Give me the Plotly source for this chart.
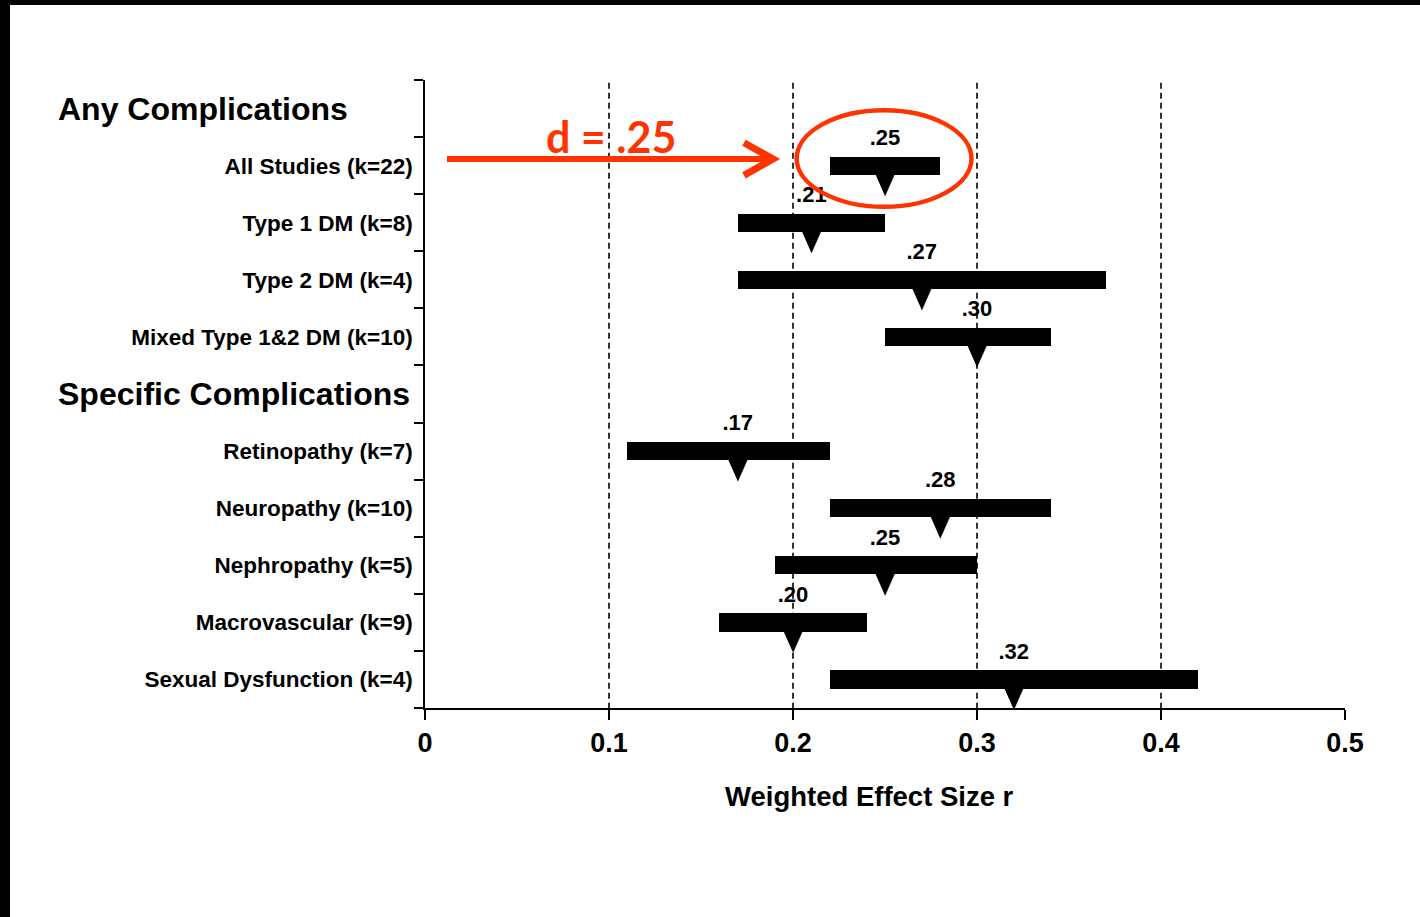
import plotly.graph_objects as go

# ---------------- data ----------------
groups = ["Any Complications", "Specific Complications"]
group_sizes = [4, 5]
categories = [
    "All Studies (k=22)", "Type 1 DM (k=8)", "Type 2 DM (k=4)",
    "Mixed Type 1&2 DM (k=10)",
    "Retinopathy (k=7)", "Neuropathy (k=10)", "Nephropathy (k=5)",
    "Macrovascular (k=9)", "Sexual Dysfunction (k=4)",
]
effect = [0.25, 0.21, 0.27, 0.30, 0.17, 0.28, 0.25, 0.20, 0.32]
ci_low = [0.22, 0.17, 0.17, 0.25, 0.11, 0.22, 0.19, 0.16, 0.22]
ci_high = [0.28, 0.25, 0.37, 0.34, 0.22, 0.34, 0.30, 0.24, 0.42]
x_tickvals = [0, 0.1, 0.2, 0.3, 0.4, 0.5]
x_ticktext = ["0", "0.1", "0.2", "0.3", "0.4", "0.5"]
ref_lines = [0.1, 0.2, 0.3, 0.4]
x_title = "Weighted Effect Size r"
callout_text = "d = .25"

# ---------------- layout geometry ----------------
W, H = 1420, 917
L, R, T, B = 425, 75, 80, 209
PW, PH = W - L - R, H - T - B

def pxx(px):
    return (px - L) / PW

def pxy(py):
    return (T + PH - py) / PH

# row positions: header row then its items
header_rows, item_rows = [], []
r = 0
for g, n in zip(groups, group_sizes):
    header_rows.append(r)
    r += 1
    for _ in range(n):
        item_rows.append(r)
        r += 1
n_rows = r

BLACK = "black"
RED = "#FF3300"
FONT = "Liberation Sans, Arial, sans-serif"

fig = go.Figure()

# CI bars
fig.add_trace(go.Bar(
    y=item_rows, x=[h - l for l, h in zip(ci_low, ci_high)], base=ci_low,
    orientation="h", width=0.32, marker=dict(color=BLACK, line=dict(width=0)),
    hoverinfo="skip", showlegend=False,
))

# triangles pointing down to the mean effect
tx, ty = [], []
half_w = 0.0052
for v, row in zip(effect, item_rows):
    tx += [v - half_w, v + half_w, v, None]
    ty += [row + 0.15, row + 0.15, row + 0.53, None]
fig.add_trace(go.Scatter(
    x=tx, y=ty, mode="lines", fill="toself", fillcolor=BLACK,
    line=dict(color=BLACK, width=0.5), hoverinfo="skip", showlegend=False,
))

# value labels
fig.add_trace(go.Scatter(
    x=effect, y=[row - 0.46 for row in item_rows], mode="text",
    text=[".%02d" % round(v * 100) for v in effect],
    textfont=dict(family=FONT, size=22, color=BLACK, weight="bold"),
    textposition="middle center", hoverinfo="skip", showlegend=False,
))

shapes = []
for xv in ref_lines:
    shapes.append(dict(type="line", xref="x", yref="y", x0=xv, x1=xv,
                       y0=-0.45, y1=n_rows - 0.5,
                       line=dict(color=BLACK, width=1.6, dash="6px,4px")))

# red callout arrow + ellipse
shapes.append(dict(type="line", xref="x", yref="y",
                   x0=pxx(447) * 0.5, x1=pxx(772) * 0.5, y0=0.884, y1=0.884,
                   line=dict(color=RED, width=6)))
shapes.append(dict(type="path", xref="x", yref="y",
                   path="M %f,%f L %f,%f L %f,%f" % (
                       pxx(744) * 0.5, 0.60, pxx(773) * 0.5, 0.884,
                       pxx(744) * 0.5, 1.17),
                   line=dict(color=RED, width=7)))
shapes.append(dict(type="circle", xref="x", yref="y",
                   x0=0.202, x1=0.297, y0=0.03, y1=1.72,
                   line=dict(color=RED, width=4.5)))

# black border strips of the screenshot
shapes.append(dict(type="rect", xref="paper", yref="paper",
                   x0=pxx(0), x1=pxx(10), y0=pxy(H), y1=pxy(0),
                   fillcolor=BLACK, line=dict(width=0)))
shapes.append(dict(type="rect", xref="paper", yref="paper",
                   x0=pxx(0), x1=pxx(W), y0=pxy(5), y1=pxy(0),
                   fillcolor=BLACK, line=dict(width=0)))

annotations = []
for g, row in zip(groups, header_rows):
    annotations.append(dict(
        text=g, xref="paper", yref="y", x=pxx(56), y=row,
        xanchor="left", yanchor="middle", showarrow=False,
        font=dict(family=FONT, size=32, color=BLACK, weight="bold")))
annotations.append(dict(
    text=x_title, xref="paper", yref="paper", x=pxx(869), y=pxy(796),
    xanchor="center", yanchor="middle", showarrow=False,
    font=dict(family=FONT, size=27.5, color=BLACK, weight="bold")))
annotations.append(dict(
    text=callout_text, xref="paper", yref="paper", x=pxx(611), y=pxy(136),
    xanchor="center", yanchor="middle", showarrow=False,
    font=dict(family="Lato, Open Sans, sans-serif", size=43, color=RED,
              weight="bold")))

fig.update_layout(
    width=W, height=H,
    margin=dict(l=L, r=R, t=T, b=B, pad=0),
    paper_bgcolor="white", plot_bgcolor="white",
    shapes=shapes, annotations=annotations,
    xaxis=dict(range=[0, 0.5], tickvals=x_tickvals, ticktext=x_ticktext,
               showgrid=False, zeroline=False, showline=True,
               linecolor=BLACK, linewidth=1.5, ticks="outside", ticklen=10,
               tickwidth=1.5, tickcolor=BLACK, ticklabelstandoff=0,
               tickfont=dict(family=FONT, size=27, color=BLACK, weight="bold")),
    yaxis=dict(range=[n_rows - 0.5, -0.5], tickvals=item_rows,
               ticktext=categories, showgrid=False, zeroline=False,
               showline=True, linecolor=BLACK, linewidth=1.5, ticks="",
               ticklabelstandoff=6,
               tickfont=dict(family=FONT, size=22.5, color=BLACK, weight="bold"),
               minor=dict(ticks="outside", ticklen=9, tickwidth=1.5,
                          tickcolor=BLACK, tick0=0.5, dtick=1,
                          showgrid=False)),
    bargap=0,
)

fig.write_html("out.html", config={"displayModeBar": False},
               post_script="document.body.style.margin='0';"
                           "document.body.style.overflow='hidden';")
